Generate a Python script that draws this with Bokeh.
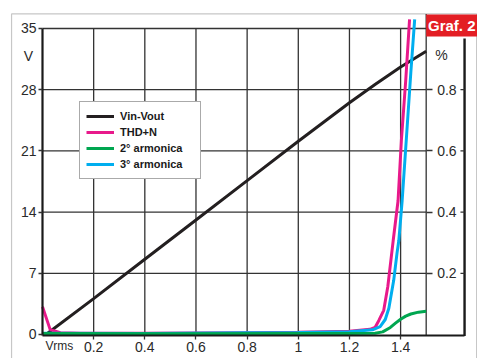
from bokeh.plotting import figure
from bokeh.models import (Range1d, LinearAxis, FixedTicker, BoxAnnotation, Label)
from bokeh.embed import file_html
from bokeh.resources import INLINE

# ---------------- data ----------------
vin_x = [0.02, 0.2, 0.4, 0.6, 0.8, 1.0, 1.1, 1.2, 1.3, 1.4, 1.5]
vout_v = [0.15, 4.1, 8.6, 13.1, 17.6, 22.1, 24.3, 26.5, 28.6, 30.6, 32.4]

thd_x = [0.0, 0.03, 0.07, 0.15, 0.4, 0.8, 1.0, 1.2, 1.28, 1.3, 1.315, 1.334,
         1.35, 1.371, 1.39, 1.403, 1.42, 1.435]
thd_pct = [0.091, 0.016, 0.006, 0.004, 0.004, 0.006, 0.007, 0.011, 0.017, 0.023,
           0.046, 0.079, 0.157, 0.307, 0.437, 0.634, 0.83, 1.03]

h2_x = [0.0, 0.5, 1.0, 1.2, 1.3, 1.33, 1.36, 1.38, 1.4, 1.42, 1.44, 1.47, 1.5]
h2_pct = [0.0029, 0.0023, 0.0029, 0.0029, 0.0043, 0.0086, 0.023, 0.037, 0.05,
          0.06, 0.067, 0.073, 0.076]

h3_x = [0.0, 0.4, 0.8, 1.0, 1.2, 1.29, 1.32, 1.34, 1.354, 1.373, 1.386, 1.393,
        1.406, 1.422, 1.44, 1.455]
h3_pct = [0.0043, 0.0034, 0.0057, 0.0063, 0.0086, 0.0154, 0.026, 0.049, 0.086,
          0.177, 0.266, 0.307, 0.437, 0.634, 0.857, 1.03]

x_ticks = [0.2, 0.4, 0.6, 0.8, 1.0, 1.2, 1.4]
x_grid = [0.2, 0.4, 0.6, 0.8, 1.0, 1.2, 1.4, 1.5]
v_ticks = [0, 7, 14, 21, 28, 35]
pct_ticks = [0.2, 0.4, 0.6, 0.8]

series_names = ["Vin-Vout", "THD+N", "2° armonica", "3° armonica"]
series_colors = ["#231f20", "#e8198b", "#00a650", "#00aeef"]

FONT = "Liberation Sans"
TXT = "#2a2a2a"
GRID = "#333333"
AXIS = "#1a1a1a"

V_MAX = 35.0          # top of the plotting box (left scale, volts)
V_BOT = -0.17         # level of the bottom axis line
X_BOX = 1.5           # right edge of the gridded box
X_RAXIS = 1.65        # thick right-hand axis line
TOP_FRAME = 36.66     # outer frame top
LEFT_FRAME = -0.121   # outer frame left
RIGHT_FRAME = 1.697   # outer frame right

# whole canvas is the frame so that every element can be placed on the scales
p = figure(width=477, height=358, output_backend="svg", toolbar_location=None,
           x_range=Range1d(-0.1642, 1.7006), y_range=Range1d(-2.745, 38.20),
           x_axis_type=None, y_axis_type=None, min_border=0)
p.extra_y_ranges = {"pct": Range1d(-2.745 / V_MAX, 38.20 / V_MAX)}
p.outline_line_color = None
p.background_fill_color = "white"
p.border_fill_color = "white"

# ---------------- grid ----------------
p.segment(x0=x_grid, y0=[V_BOT] * len(x_grid), x1=x_grid,
          y1=[TOP_FRAME if g == X_BOX else V_MAX for g in x_grid],
          line_color=GRID, line_width=1.3)
hy = v_ticks[1:]
p.segment(x0=[0] * len(hy), y0=hy, x1=[X_BOX] * len(hy), y1=hy,
          line_color=GRID, line_width=1.3)

# outer frame
p.add_layout(BoxAnnotation(left=LEFT_FRAME, right=RIGHT_FRAME, top=TOP_FRAME, bottom=-3,
                           fill_color=None, line_color="#444444", line_width=1.2))

# ---------------- axes ----------------
xaxis = LinearAxis(ticker=FixedTicker(ticks=x_ticks), fixed_location=V_BOT,
                   bounds=(0, X_RAXIS))
yaxis = LinearAxis(ticker=FixedTicker(ticks=v_ticks), fixed_location=0,
                   bounds=(V_BOT, V_MAX))
raxis = LinearAxis(y_range_name="pct", ticker=FixedTicker(ticks=pct_ticks),
                   fixed_location=X_BOX)
for ax in (xaxis, yaxis, raxis):
    ax.axis_line_color = AXIS
    ax.axis_line_width = 2.2
    ax.major_tick_line_color = GRID
    ax.major_tick_line_width = 1.3
    ax.minor_tick_line_color = None
    ax.major_label_text_font = FONT
    ax.major_label_text_font_size = "14px"
    ax.major_label_text_color = TXT
xaxis.major_tick_out = 4
xaxis.major_tick_in = 0
xaxis.major_label_standoff = 2
yaxis.major_tick_out = 4
yaxis.major_tick_in = 0
yaxis.major_label_standoff = 2
raxis.axis_line_color = None
raxis.major_tick_out = 6
raxis.major_tick_in = 0
raxis.major_label_standoff = 5
p.add_layout(xaxis, "below")
p.add_layout(yaxis, "left")
p.add_layout(raxis, "right")

# thick right-hand line with its inward ticks
p.segment(x0=[X_RAXIS], y0=[V_BOT], x1=[X_RAXIS], y1=[33.85],
          line_color=AXIS, line_width=2.4)
p.segment(x0=[X_RAXIS - 0.016] * len(pct_ticks), y0=pct_ticks,
          x1=[X_RAXIS] * len(pct_ticks), y1=pct_ticks, y_range_name="pct",
          line_color=GRID, line_width=1.3)

# ---------------- series ----------------
p.line(vin_x, vout_v, line_color=series_colors[0], line_width=3,
       legend_label=series_names[0])
p.line(thd_x, thd_pct, y_range_name="pct", line_color=series_colors[1],
       line_width=3, legend_label=series_names[1])
p.line(h3_x, h3_pct, y_range_name="pct", line_color=series_colors[3],
       line_width=3, legend_label=series_names[3])
p.line(h2_x, h2_pct, y_range_name="pct", line_color=series_colors[2],
       line_width=3, legend_label=series_names[2])

# ---------------- texts ----------------
p.add_layout(Label(x=1.56, y=0.912, y_range_name="pct", text="%",
                   text_font=FONT, text_font_size="14px", text_color=TXT,
                   text_align="center", text_baseline="middle"))
p.add_layout(Label(x=-0.055, y=31.9, text="V", text_font=FONT,
                   text_font_size="14px", text_color=TXT,
                   text_align="center", text_baseline="middle"))
p.add_layout(Label(x=0.066, y=-1.37, text="Vrms", text_font=FONT,
                   text_font_size="12px", text_color=TXT,
                   text_align="center", text_baseline="middle"))

# "Graf. 2" tag
p.add_layout(BoxAnnotation(left=X_BOX, right=1.75, top=36.6, bottom=34.08,
                           fill_color="#e31e24", fill_alpha=1, line_color=None))
p.add_layout(Label(x=1.6, y=35.3, text="Graf. 2", text_font=FONT,
                   text_font_style="bold", text_font_size="15px", text_color="white",
                   text_align="center", text_baseline="middle"))

# ---------------- legend ----------------
leg = p.legend[0]
leg.items = [leg.items[0], leg.items[1], leg.items[3], leg.items[2]]
leg.location = (79, 179)
leg.label_text_font = FONT
leg.label_text_font_style = "bold"
leg.label_text_font_size = "11px"
leg.label_text_color = "#1a1a1a"
leg.glyph_width = 28
leg.glyph_height = 16
leg.label_height = 16
leg.label_width = 74
leg.label_standoff = 6
leg.spacing = 0
leg.padding = 6
leg.margin = 0
leg.border_line_color = "#555555"
leg.border_line_width = 1.2
leg.background_fill_color = "white"
leg.background_fill_alpha = 1

open("out.html", "w").write(file_html(p, INLINE))
